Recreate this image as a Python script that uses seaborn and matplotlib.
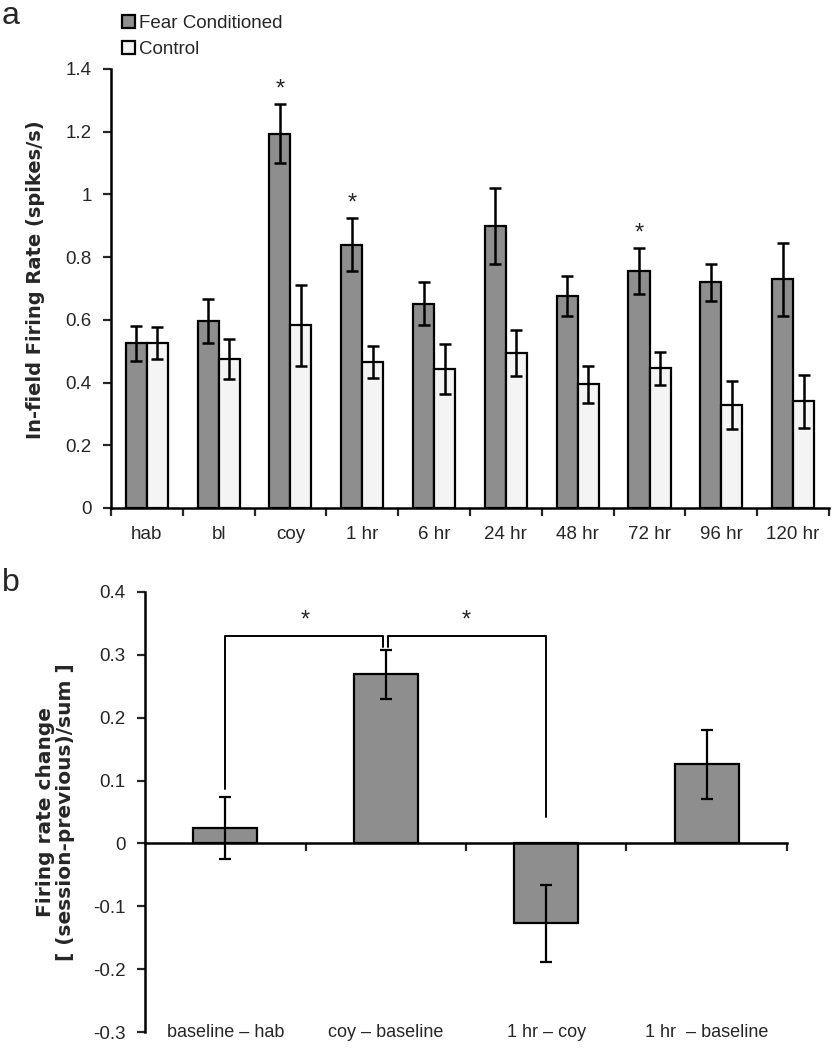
import numpy as np
import pandas as pd
import matplotlib
matplotlib.use('Agg')
import matplotlib.pyplot as plt
from matplotlib.patches import Patch
from matplotlib.ticker import FuncFormatter
import seaborn as sns

# ── Data ──────────────────────────────────────────────────────────────────────
sessions   = ["hab", "bl", "coy", "1 hr", "6 hr", "24 hr", "48 hr", "72 hr", "96 hr", "120 hr"]
fear_rate  = [0.525, 0.595, 1.194, 0.840, 0.651, 0.899, 0.676, 0.756, 0.720, 0.729]
fear_sem   = [0.055, 0.070, 0.093, 0.085, 0.069, 0.122, 0.063, 0.073, 0.059, 0.116]
ctrl_rate  = [0.526, 0.476, 0.582, 0.466, 0.443, 0.495, 0.394, 0.446, 0.329, 0.340]
ctrl_sem   = [0.052, 0.064, 0.128, 0.052, 0.080, 0.073, 0.058, 0.053, 0.076, 0.085]
fear_sig   = ["coy", "1 hr", "72 hr"]

comparisons = ["baseline \u2013 hab", "coy \u2013 baseline", "1 hr \u2013 coy", "1 hr  \u2013 baseline"]
change      = [0.025, 0.269, -0.127, 0.126]
change_sem  = [0.049, 0.039, 0.061, 0.055]

FC_COLOR   = '#8e8e8e'
CTRL_COLOR = '#f4f4f4'
LABEL_FONT = ['DejaVu Sans']

sns.set_style('white')
plt.rcParams['font.family'] = ['Liberation Sans', 'DejaVu Sans']

fig = plt.figure(figsize=(8.32, 10.5), dpi=100)
ax1 = fig.add_axes([0.1334, 0.5162, 0.863, 0.4181])
ax2 = fig.add_axes([0.1743, 0.0171, 0.7716, 0.4191])

# ─────────────────────────────────────────────────────────────────────────────
# Panel a
# ─────────────────────────────────────────────────────────────────────────────
df_a = pd.DataFrame({
    'session': sessions * 2,
    'rate': fear_rate + ctrl_rate,
    'group': ['Fear Conditioned'] * len(sessions) + ['Control'] * len(sessions),
})
sns.barplot(data=df_a, x='session', y='rate', hue='group', order=sessions,
            hue_order=['Fear Conditioned', 'Control'],
            palette=[FC_COLOR, CTRL_COLOR], edgecolor='black', linewidth=1.6,
            width=0.585, errorbar=None, legend=False, ax=ax1)

for cont, sems in zip(ax1.containers, [fear_sem, ctrl_sem]):
    xs = [b.get_x() + b.get_width() / 2 for b in cont]
    hs = [b.get_height() for b in cont]
    ax1.errorbar(xs, hs, yerr=sems, fmt='none', ecolor='black',
                 elinewidth=1.8, capsize=4, capthick=1.8, zorder=5)

for i, s in enumerate(sessions):
    if s in fear_sig:
        b = ax1.containers[0][i]
        ax1.text(b.get_x() + b.get_width() / 2, fear_rate[i] + fear_sem[i] + 0.047, '*',
                 ha='center', va='center', fontsize=17)

ax1.set_xlim(-0.5, len(sessions) - 0.5)
ax1.set_ylim(0, 1.4)
ax1.set_yticks(np.arange(0, 1.41, 0.2))
ax1.yaxis.set_major_formatter(FuncFormatter(lambda v, p: f'{v:g}'))
ax1.set_xticks(np.arange(-0.5, len(sessions), 1.0))
ax1.set_xticklabels([])
ax1.set_xticks(range(len(sessions)), minor=True)
ax1.set_xticklabels(sessions, minor=True)
ax1.tick_params(axis='x', which='major', direction='out', length=6, width=1.6, bottom=True)
ax1.tick_params(axis='x', which='minor', length=0, pad=13, labelsize=13.5)
ax1.tick_params(axis='y', direction='out', length=6, width=1.6, left=True, labelsize=13.5, pad=8)
ax1.set_xlabel('')
ax1.set_ylabel('In-field Firing Rate (spikes/s)', fontsize=14, fontweight='bold',
               family=LABEL_FONT)
ax1.yaxis.set_label_coords(-0.092, 0.52)
sns.despine(ax=ax1)
for sp in ['left', 'bottom']:
    ax1.spines[sp].set_linewidth(1.8)
    ax1.spines[sp].set_color('black')

handles = [Patch(facecolor=FC_COLOR, edgecolor='black', linewidth=1.6, label='Fear Conditioned'),
           Patch(facecolor=CTRL_COLOR, edgecolor='black', linewidth=1.6, label='Control')]
fig.legend(handles=handles, loc='upper left', bbox_to_anchor=(0.138, 0.993), frameon=False,
           fontsize=13.5, handlelength=0.7, handleheight=0.7, handletextpad=0.2,
           labelspacing=0.5, borderaxespad=0)

fig.text(0.002, 0.999, 'a', fontsize=23, ha='left', va='top')

# ─────────────────────────────────────────────────────────────────────────────
# Panel b
# ─────────────────────────────────────────────────────────────────────────────
sns.barplot(x=comparisons, y=change, color=FC_COLOR, edgecolor='black', linewidth=1.6,
            width=0.4, errorbar=None, ax=ax2)
xs = [b.get_x() + b.get_width() / 2 for b in ax2.containers[0]]
ax2.errorbar(xs, change, yerr=change_sem, fmt='none', ecolor='black',
             elinewidth=1.6, capsize=4.5, capthick=1.6, zorder=5)

# significance brackets
lw_b = 1.4
ax2.plot([0, 0, 0.985, 0.985], [0.086, 0.330, 0.330, 0.312], color='black', lw=lw_b)
ax2.plot([1.015, 1.015, 2.0, 2.0], [0.312, 0.330, 0.330, 0.042], color='black', lw=lw_b)
ax2.text(0.5, 0.354, '*', ha='center', va='center', fontsize=17)
ax2.text(1.5, 0.354, '*', ha='center', va='center', fontsize=17)

ax2.set_xlim(-0.5, len(comparisons) - 0.5)
ax2.set_ylim(-0.3, 0.4)
ax2.set_yticks(np.arange(-0.3, 0.41, 0.1))
ax2.yaxis.set_major_formatter(FuncFormatter(lambda v, p: f'{round(v, 1):g}' if abs(v) > 1e-9 else '0'))
ax2.spines['bottom'].set_position(('data', 0))
ax2.set_xticks(np.arange(0.5, len(comparisons), 1.0))
ax2.set_xticklabels([])
ax2.tick_params(axis='x', direction='out', length=6, width=1.6, bottom=True)
ax2.tick_params(axis='y', direction='out', length=6, width=1.6, left=True, labelsize=13.5, pad=8)
for i, lab in enumerate(comparisons):
    ax2.text(i, -0.3, lab, ha='center', va='center', fontsize=13)
ax2.set_ylabel('Firing rate change\n[ (session-previous)/sum ]', fontsize=14.5,
               fontweight='bold', linespacing=1.1, family=LABEL_FONT)
ax2.yaxis.set_label_coords(-0.109, 0.5)
sns.despine(ax=ax2)
for sp in ['left', 'bottom']:
    ax2.spines[sp].set_linewidth(1.8)
    ax2.spines[sp].set_color('black')

fig.text(0.002, 0.445, 'b', fontsize=23, ha='left', va='center')

fig.savefig('out.png', dpi=100)
